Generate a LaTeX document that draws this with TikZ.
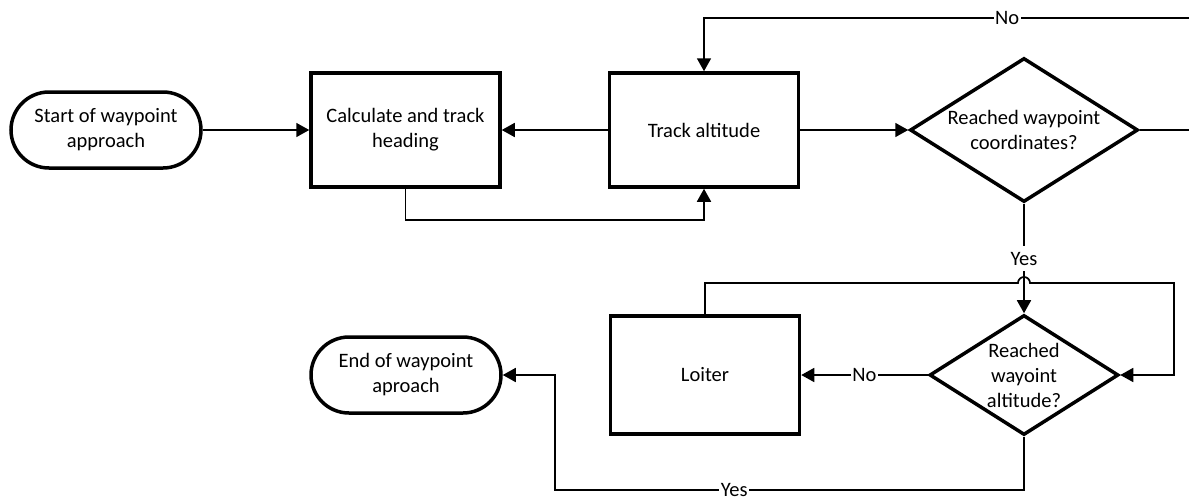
\documentclass[tikz,border=0pt]{standalone}
\usepackage{fontspec}
\setmainfont{Carlito}
\usepackage{tikz}
\usetikzlibrary{arrows.meta,shapes.geometric}
\tikzset{
  term/.style={draw,rectangle,rounded corners=38bp,line width=3.5bp,minimum width=190bp,minimum height=76bp,align=center},
  proc/.style={draw,rectangle,line width=3.5bp,minimum width=189bp,minimum height=114bp,align=center},
  dec/.style={draw,diamond,line width=3.5bp,inner sep=0pt},
  flow/.style={->,line width=1.7bp},
  lbl/.style={fill=white,inner xsep=1.5bp,inner ysep=6bp}
}

\begin{document}
\begin{tikzpicture}[font=\fontsize{20.5bp}{25bp}\selectfont,>={Triangle[length=13bp,width=14bp]}]
\useasboundingbox (0bp,0bp) rectangle (1189bp,-503bp);

\node (Start) at (106bp,-130bp)[term] {Start of waypoint\\approach};
\node (Calc) at (405.5bp,-130bp)[proc] {Calculate and track\\heading};
\node (Track) at (704bp,-130bp)[proc] {Track altitude};
\node (RC) at (1024bp,-130bp)[dec,minimum width=228bp,minimum height=144bp,label={[name=RCtext,align=center]center:{Reached waypoint\\coordinates?}}] {};
\node (RW) at (1024bp,-375bp)[dec,minimum width=189bp,minimum height=120bp,label={[name=RWtext,align=center]center:{Reached\\wayoint\\altitude?}}] {};
\node (Loiter) at (705bp,-375bp)[proc,minimum height=118bp] {Loiter};
\node (End) at (406bp,-375bp)[term] {End of waypoint\\aproach};

\coordinate (NoR) at (1196bp,-18bp);
\coordinate (Jump) at (1018bp,-283bp);
\coordinate (LoopR) at (1174bp,-283bp);
\coordinate (YesL) at (555bp,-490bp);

\draw [flow] (Start) to (Calc);
\draw [flow] (Track) to (Calc);
\draw [flow] (Calc.south) -- ++(0bp,-31bp) -| (Track.south);
\draw [flow] (Track) to (RC);
\draw [flow] (RC.east) -| (NoR) -- node[pos=0.384,lbl] {No} (Track.north |- NoR) -- (Track.north);
\draw [flow] (RC) to node[lbl] {Yes} (RW);
\draw [flow] (Loiter.north) |- (Jump) arc(180:0:6bp) -- (LoopR) |- (RW.east);
\draw [flow] (RW) to node[lbl] {No} (Loiter);
\draw [flow] (RW.south) -- (RW.south |- YesL) -- node[pos=0.618,lbl] {Yes} (YesL) |- (End.east);
\end{tikzpicture}
\end{document}
